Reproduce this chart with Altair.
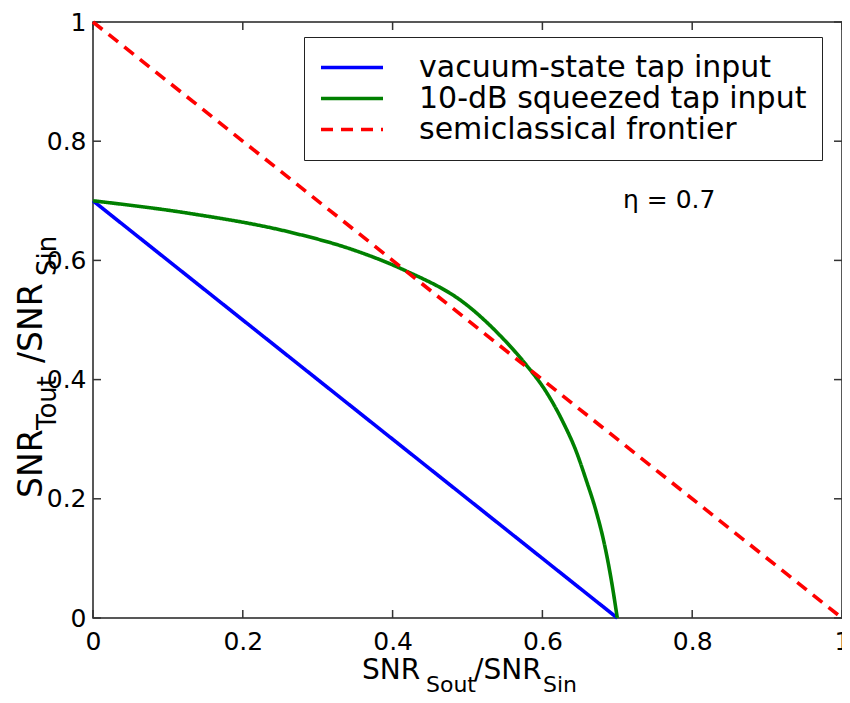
import altair as alt
import pandas as pd

# ---- data ----
series_names = ["vacuum-state tap input", "10-dB squeezed tap input", "semiclassical frontier"]
series_colors = ["#0000ff", "#008000", "#ff0000"]

vac_x = [0.0, 0.7]
vac_y = [0.7, 0.0]

sq_x = [0.0, 0.128, 0.261, 0.349, 0.415, 0.4993, 0.5435, 0.5788, 0.6053, 0.6274, 0.645, 0.6583, 0.6715, 0.6826, 0.6914, 0.7]
sq_y = [0.7, 0.679, 0.648, 0.617, 0.584, 0.525, 0.474, 0.424, 0.379, 0.329, 0.280, 0.232, 0.180, 0.125, 0.068, 0.0]

semi_x = [0.0, 1.0]
semi_y = [1.0, 0.0]

tick_values = [0.0, 0.2, 0.4, 0.6, 0.8, 1.0]
eta_label = "\u03b7 = 0.7"
x_title_parts = ["SNR", "Sout", "/SNR", "Sin"]
y_title_parts = ["SNR", "Tout", "/SNR", "Sin"]

# ---- build table ----
rows = []
for name, xs, ys in zip(series_names, [vac_x, sq_x, semi_x], [vac_y, sq_y, semi_y]):
    for i, (a, b) in enumerate(zip(xs, ys)):
        rows.append({"series": name, "x": a, "y": b, "i": i})
df = pd.DataFrame(rows)
ticks_df = pd.DataFrame({"tick": tick_values})

W, H = 749, 596
FONT = "DejaVu Sans"
TL = 8  # inward tick length

xscale = alt.Scale(domain=[0, 1], nice=False, zero=False)
yscale = alt.Scale(domain=[0, 1], nice=False, zero=False)
xaxis = alt.Axis(values=tick_values, format="~g", ticks=False, domain=False, grid=False,
                 labelFont=FONT, labelFontSize=25, labelColor="black", labelPadding=11,
                 labelFlush=False, labelOverlap=False, title=None)
yaxis = alt.Axis(values=tick_values, format="~g", ticks=False, domain=False, grid=False,
                 labelFont=FONT, labelFontSize=25, labelColor="black", labelPadding=7,
                 labelFlush=False, labelOverlap=False, title=None)

legend = alt.Legend(title=None, orient="none", legendX=211, legendY=15,
                    fillColor="white", strokeColor="#222", cornerRadius=0,
                    padding=15, symbolType="stroke", symbolSize=3844, symbolStrokeWidth=3.5,
                    labelFont=FONT, labelFontSize=30, labelColor="black", labelLimit=0,
                    labelOffset=34, clipHeight=31, rowPadding=0)

lines = alt.Chart(df).mark_line(strokeWidth=3.6, strokeCap="butt", interpolate="monotone").encode(
    x=alt.X("x:Q", scale=xscale, axis=xaxis),
    y=alt.Y("y:Q", scale=yscale, axis=yaxis),
    color=alt.Color("series:N", scale=alt.Scale(domain=series_names, range=series_colors), legend=legend),
    strokeDash=alt.StrokeDash("series:N", scale=alt.Scale(domain=series_names, range=[[1, 0], [1, 0], [12, 8]]), legend=legend),
    order="i:Q",
)

tick_style = dict(color="#333", strokeWidth=1.5)
xt_bottom = alt.Chart(ticks_df).mark_rule(**tick_style).encode(
    x=alt.X("tick:Q", scale=xscale, axis=xaxis), y=alt.value(H), y2=alt.value(H - TL))
xt_top = alt.Chart(ticks_df).mark_rule(**tick_style).encode(
    x=alt.X("tick:Q", scale=xscale, axis=xaxis), y=alt.value(0), y2=alt.value(TL))
yt_left = alt.Chart(ticks_df).mark_rule(**tick_style).encode(
    y=alt.Y("tick:Q", scale=yscale, axis=yaxis), x=alt.value(0), x2=alt.value(TL))
yt_right = alt.Chart(ticks_df).mark_rule(**tick_style).encode(
    y=alt.Y("tick:Q", scale=yscale, axis=yaxis), x=alt.value(W), x2=alt.value(W - TL))


def label(text, x, y, size, angle=0):
    return alt.Chart(pd.DataFrame({"t": [text]})).mark_text(
        font=FONT, fontSize=size, color="black", align="left", baseline="alphabetic", angle=angle
    ).encode(text="t:N", x=alt.value(x), y=alt.value(y))

# x title pieces (positions relative to plot origin at page (93, 22))
xt = [
    label(x_title_parts[0], 362 - 93, 679 - 22, 28),
    label(x_title_parts[1], 426 - 93, 692 - 22, 22),
    label(x_title_parts[2], 474 - 93, 679 - 22, 28),
    label(x_title_parts[3], 543 - 93, 692 - 22, 22),
]
# y title pieces (rotated)
yt = [
    label(y_title_parts[0], 42 - 93, 498 - 22, 33, 270),
    label(y_title_parts[1], 56 - 93, 430 - 22, 26, 270),
    label(y_title_parts[2], 42 - 93, 363 - 22, 33, 270),
    label(y_title_parts[3], 56 - 93, 276 - 22, 26, 270),
]
eta = label(eta_label, 623 - 93, 208 - 22, 25)

chart = alt.layer(
    xt_bottom, xt_top, yt_left, yt_right, lines, eta, *xt, *yt
).properties(
    width=W, height=H,
    autosize=alt.AutoSizeParams(type="none"),
    padding={"left": 85, "top": 14, "right": 0, "bottom": 76},
    background="white",
).configure_view(stroke="#222", strokeWidth=1.5)

chart.save("out.html", embed_options={"renderer": "svg", "actions": False})
